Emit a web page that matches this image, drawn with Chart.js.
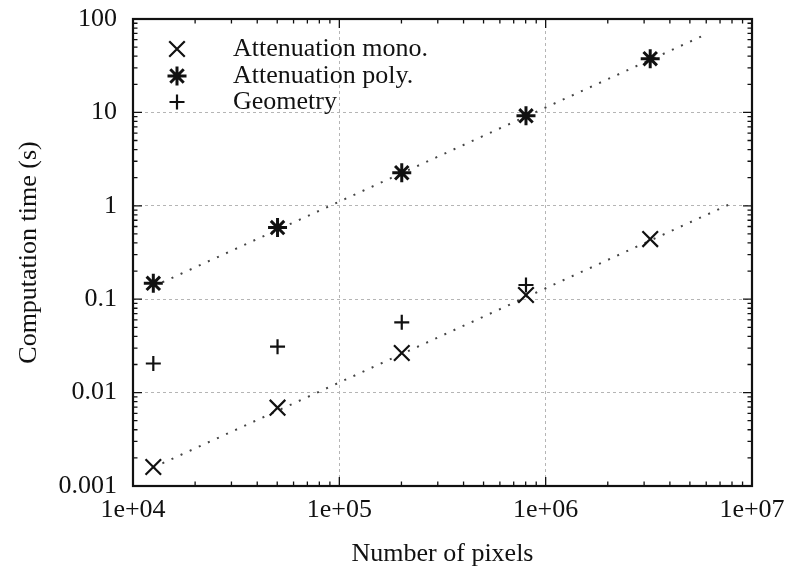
<!DOCTYPE html>
<html>
<head>
<meta charset="utf-8">
<script src="https://cdn.jsdelivr.net/npm/chart.js@4/dist/chart.umd.min.js"></script>
<style>
html,body{margin:0;padding:0;background:#fff;}
canvas{display:block;}
</style>
</head>
<body>
<canvas id="c" width="799" height="573"></canvas>
<script>
// ---- data ----
const pixels = [12544, 50176, 200704, 802816, 3211264];
const monoTime = [0.0016, 0.0069, 0.0265, 0.111, 0.44];
const polyTime = [0.148, 0.585, 2.26, 9.2, 37.6];
const geomPixels = [12544, 50176, 200704, 802816];
const geomTime = [0.0205, 0.031, 0.0565, 0.142];
const polyFitX = [12544, 5770000];
const polyFitY = [0.137, 66];
const monoFitX = [12544, 7800000];
const monoFitY = [0.00158, 1.04];
const xTickVals = [1e4, 1e5, 1e6, 1e7];
const xTickLabels = ['1e+04', '1e+05', '1e+06', '1e+07'];
const yTickVals = [0.001, 0.01, 0.1, 1, 10, 100];
const yTickLabels = ['0.001', '0.01', '0.1', '1', '10', '100'];
const seriesLabels = ['Attenuation mono.', 'Attenuation poly.', 'Geometry'];
const xTitle = 'Number of pixels';
const yTitle = 'Computation time (s)';

const FONT = "'Liberation Serif', 'DejaVu Serif', serif";
const INK = '#111';

const pts = (xs, ys) => xs.map((x, i) => ({x: x, y: ys[i]}));

const frame = {
  id: 'frame',
  afterDraw(chart) {
    const {ctx, chartArea: {left, right, top, bottom}, scales: {x, y}} = chart;
    ctx.save();
    ctx.strokeStyle = INK;
    ctx.lineWidth = 1.3;
    ctx.beginPath();
    xTickVals.forEach((d, i) => {
      const px = x.getPixelForValue(d);
      ctx.moveTo(px, bottom); ctx.lineTo(px, bottom - 9);
      ctx.moveTo(px, top); ctx.lineTo(px, top + 9);
      if (i < xTickVals.length - 1) {
        for (let k = 2; k < 10; k++) {
          const p = x.getPixelForValue(d * k);
          ctx.moveTo(p, bottom); ctx.lineTo(p, bottom - 4.5);
          ctx.moveTo(p, top); ctx.lineTo(p, top + 4.5);
        }
      }
    });
    yTickVals.forEach((d, i) => {
      const py = y.getPixelForValue(d);
      ctx.moveTo(left, py); ctx.lineTo(left + 9, py);
      ctx.moveTo(right, py); ctx.lineTo(right - 9, py);
      if (i < yTickVals.length - 1) {
        for (let k = 2; k < 10; k++) {
          const p = y.getPixelForValue(d * k);
          ctx.moveTo(left, p); ctx.lineTo(left + 4.5, p);
          ctx.moveTo(right, p); ctx.lineTo(right - 4.5, p);
        }
      }
    });
    ctx.stroke();
    ctx.lineWidth = 2.2;
    ctx.strokeRect(left, top, right - left, bottom - top);

    // legend inside plot
    const rows = [30, 57, 83];
    ctx.font = '26px ' + FONT;
    ctx.textBaseline = 'middle';
    ctx.textAlign = 'left';
    for (let i = 0; i < 3; i++) {
      const ds = chart.data.datasets[i];
      ctx.strokeStyle = INK;
      ctx.fillStyle = INK;
      ctx.lineWidth = ds.pointBorderWidth;
      Chart.helpers.drawPoint(ctx, {pointStyle: ds.pointStyle, radius: ds.pointRadius, borderWidth: ds.pointBorderWidth, rotation: 0}, left + 44, top + rows[i]);
      ctx.fillStyle = INK;
      ctx.fillText(ds.label, left + 100, top + rows[i]);
    }
    ctx.restore();
  }
};

const markerDs = (label, data, style, r, bw) => ({
  label: label, data: data, showLine: false,
  pointStyle: style, pointRadius: r, pointHoverRadius: r,
  pointBorderWidth: bw, borderColor: INK, backgroundColor: INK,
  pointBorderColor: INK, pointBackgroundColor: INK
});

const fitDs = (data) => ({
  label: '', data: data, showLine: true, pointRadius: 0,
  borderColor: '#444', borderWidth: 2, borderDash: [2, 8], fill: false
});

new Chart(document.getElementById('c'), {
  type: 'scatter',
  data: {
    datasets: [
      markerDs(seriesLabels[0], pts(pixels, monoTime), 'crossRot', 11, 2.2),
      markerDs(seriesLabels[1], pts(pixels, polyTime), 'star', 9.5, 3),
      markerDs(seriesLabels[2], pts(geomPixels, geomTime), 'cross', 7.5, 2.2),
      fitDs(pts(polyFitX, polyFitY)),
      fitDs(pts(monoFitX, monoFitY))
    ]
  },
  options: {
    responsive: false,
    animation: false,
    devicePixelRatio: 1,
    layout: {padding: {top: 19, right: 47, left: 0, bottom: 0}},
    plugins: {legend: {display: false}, tooltip: {enabled: false}},
    scales: {
      x: {
        type: 'logarithmic', min: 1e4, max: 1e7,
        afterBuildTicks: s => { s.ticks = xTickVals.map(v => ({value: v})); },
        afterFit: s => { s.height = 87; s.paddingLeft = 0; s.paddingRight = 0; },
        ticks: {
          callback: (v, i) => xTickLabels[i],
          font: {family: FONT, size: 26}, color: INK, padding: 9,
          maxRotation: 0, autoSkip: false
        },
        grid: {color: '#b5b5b5', lineWidth: 1, drawTicks: false},
        border: {display: false, dash: [3, 3]},
        title: {display: true, text: xTitle, font: {family: FONT, size: 26}, color: INK, padding: {top: 0, bottom: 3}}
      },
      y: {
        type: 'logarithmic', min: 0.001, max: 100,
        afterBuildTicks: s => { s.ticks = yTickVals.map(v => ({value: v})); },
        afterFit: s => { s.width = 133; s.paddingTop = 0; s.paddingBottom = 0; },
        ticks: {
          callback: (v, i) => yTickLabels[i],
          font: {family: FONT, size: 26}, color: INK, padding: 16, autoSkip: false
        },
        grid: {color: '#b5b5b5', lineWidth: 1, drawTicks: false},
        border: {display: false, dash: [3, 3]},
        title: {display: true, text: yTitle, font: {family: FONT, size: 26}, color: INK, padding: {top: 14, bottom: 0}}
      }
    }
  },
  plugins: [frame]
});
</script>
</body>
</html>
